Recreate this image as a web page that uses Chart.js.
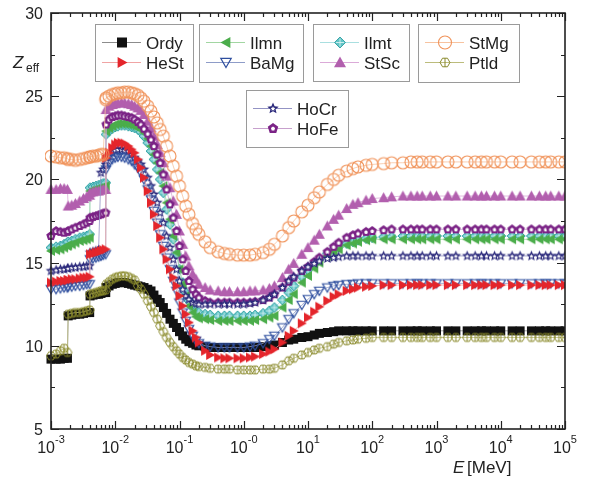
<!DOCTYPE html>
<html>
<head>
<meta charset="utf-8">
<script src="https://cdn.jsdelivr.net/npm/chart.js@4.4.1/dist/chart.umd.min.js"></script>
<style>
  html, body { margin: 0; padding: 0; background: #fff; }
  canvas { display: block; }
</style>
</head>
<body>
<canvas id="chart" width="589" height="484"></canvas>
<script>
// photon energy grid, MeV
const energies = [0.001, 0.0012, 0.0014, 0.0016, 0.0018,
  0.00185, 0.0021, 0.0024, 0.0028, 0.0032, 0.0036, 0.004,
  0.00405, 0.0045, 0.005, 0.0055, 0.006, 0.0065, 0.0071,
  0.0072, 0.008, 0.009, 0.01, 0.011, 0.0125, 0.014, 0.016, 0.018, 0.02,
  0.0225, 0.025, 0.028, 0.032, 0.036, 0.04, 0.045, 0.05, 0.056, 0.063, 0.071,
  0.08, 0.09, 0.1, 0.112, 0.125, 0.14, 0.16, 0.18, 0.2,
  0.25, 0.3, 0.4, 0.5, 0.6, 0.8, 1, 1.25, 1.5, 2,
  2.5, 3, 4, 5, 6, 8, 10, 12.5, 15, 20,
  25, 30, 40, 50, 60, 80, 100, 150, 200, 300,
  400, 500, 600, 800, 1000, 1500, 2000, 3000, 4000, 5000,
  6000, 8000, 10000, 15000, 20000, 30000, 40000, 50000, 60000, 80000, 100000];

// Zeff values for each sample
const ordy = [9.2, 9.2, 9.2, 9.25, 9.25,
  11.8, 11.85, 11.9, 11.9, 11.95, 12.0, 12.0,
  13.0, 13.05, 13.1, 13.1, 13.15, 13.2, 13.2,
  13.5, 13.6, 13.7, 13.75, 13.8, 13.8, 13.8, 13.75, 13.7, 13.65,
  13.6, 13.55, 13.5, 13.4, 13.3, 13.05, 12.8, 12.6, 12.3, 11.95, 11.6,
  11.35, 11.1, 10.85, 10.6, 10.4, 10.25, 10.15, 10.05, 10.0,
  9.95, 9.9, 9.9, 9.9, 9.9, 9.9, 9.9, 9.9, 9.9, 9.95,
  10.0, 10.05, 10.2, 10.35, 10.4, 10.5, 10.55, 10.65, 10.75, 10.8,
  10.85, 10.9, 10.9, 10.9, 10.9, 10.9, 10.9, 10.9, 10.9, 10.9,
  10.9, 10.9, 10.9, 10.9, 10.9, 10.9, 10.9, 10.9, 10.9, 10.9,
  10.9, 10.9, 10.9, 10.9, 10.9, 10.9, 10.9, 10.9, 10.9, 10.9, 10.9];

const ptld = [9.4, 9.5, 9.7, 9.85, 9.6,
  11.9, 11.95, 12.0, 12.0, 12.05, 12.1, 12.15,
  13.1, 13.15, 13.2, 13.25, 13.3, 13.3, 13.35,
  13.7, 13.85, 14.0, 14.1, 14.15, 14.2, 14.2, 14.15, 14.05, 13.95,
  13.6, 13.4, 13.1, 12.7, 12.35, 12.0, 11.6, 11.2, 10.85, 10.5, 10.2,
  9.95, 9.7, 9.5, 9.3, 9.15, 9.0, 8.9, 8.8, 8.75,
  8.7, 8.65, 8.6, 8.6, 8.6, 8.55, 8.55, 8.55, 8.55, 8.6,
  8.6, 8.65, 8.85, 9.1, 9.25, 9.45, 9.6, 9.75, 9.85, 9.95,
  10.1, 10.2, 10.3, 10.35, 10.4, 10.45, 10.5, 10.5, 10.5, 10.5,
  10.5, 10.5, 10.5, 10.5, 10.5, 10.5, 10.5, 10.5, 10.5, 10.5,
  10.5, 10.5, 10.5, 10.5, 10.5, 10.5, 10.5, 10.5, 10.5, 10.5, 10.5];

const heSt = [13.8, 13.85, 13.9, 13.9, 13.95,
  13.95, 14.0, 14.0, 14.05, 14.1, 14.1, 14.15,
  15.5, 15.55, 15.6, 15.65, 15.7, 15.75, 15.8,
  21.3, 21.6, 21.9, 22.1, 22.2, 22.2, 22.15, 22.0, 21.8, 21.6,
  21.2, 20.7, 20.1, 19.3, 18.6, 17.9, 17.2, 16.5, 15.8, 15.2, 14.6,
  14.1, 13.6, 13.0, 12.4, 11.9, 11.4, 10.9, 10.5, 10.2,
  9.7, 9.45, 9.3, 9.25, 9.25, 9.25, 9.25, 9.3, 9.35, 9.5,
  9.65, 9.8, 10.2, 10.6, 10.9, 11.35, 11.7, 12.05, 12.35, 12.7,
  12.95, 13.1, 13.3, 13.4, 13.5, 13.55, 13.6, 13.65, 13.65, 13.65,
  13.65, 13.65, 13.65, 13.65, 13.65, 13.65, 13.65, 13.65, 13.65, 13.65,
  13.65, 13.65, 13.65, 13.65, 13.65, 13.65, 13.65, 13.65, 13.65, 13.65, 13.65];

const baMg = [13.4, 13.4, 13.45, 13.5, 13.5,
  13.55, 13.55, 13.6, 13.6, 13.65, 13.7, 13.7,
  15.2, 15.25, 15.3, 15.35, 15.4, 15.45, 15.5,
  20.6, 21.0, 21.2, 21.3, 21.35, 21.35, 21.3, 21.2, 21.1, 20.9,
  20.7, 20.4, 20.0, 19.4, 18.8, 18.1, 17.4, 16.7, 16.0, 15.3, 14.6,
  13.9, 13.3, 12.6, 12.0, 11.5, 11.0, 10.6, 10.3, 10.15,
  10.0, 9.95, 9.9, 9.9, 9.9, 9.9, 9.9, 9.95, 10.0, 10.15,
  10.4, 10.6, 11.1, 11.6, 11.95, 12.45, 12.8, 13.1, 13.3, 13.5,
  13.6, 13.65, 13.7, 13.7, 13.75, 13.75, 13.75, 13.75, 13.75, 13.75,
  13.75, 13.75, 13.75, 13.75, 13.75, 13.75, 13.75, 13.75, 13.75, 13.75,
  13.75, 13.75, 13.75, 13.75, 13.75, 13.75, 13.75, 13.75, 13.75, 13.75, 13.75];

const hoCr = [14.5, 14.55, 14.6, 14.6, 14.65,
  14.65, 14.7, 14.7, 14.75, 14.75, 14.8, 14.8,
  15.6, 15.65, 15.7, 15.75, 20.4, 20.6, 20.9,
  21.1, 21.4, 21.6, 21.75, 21.8, 21.8, 21.75, 21.7, 21.5, 21.3,
  21.1, 20.9, 20.6, 20.1, 19.6, 19.1, 18.6, 18.0, 17.4, 16.6, 15.9,
  15.2, 14.6, 13.9, 13.4, 13.0, 12.8, 12.6, 12.55, 12.5,
  12.5, 12.5, 12.5, 12.5, 12.5, 12.5, 12.5, 12.55, 12.6, 12.75,
  12.9, 13.1, 13.5, 13.9, 14.15, 14.5, 14.75, 14.95, 15.1, 15.25,
  15.3, 15.35, 15.4, 15.4, 15.4, 15.4, 15.4, 15.4, 15.4, 15.4,
  15.4, 15.4, 15.4, 15.4, 15.4, 15.4, 15.4, 15.4, 15.4, 15.4,
  15.4, 15.4, 15.4, 15.4, 15.4, 15.4, 15.4, 15.4, 15.4, 15.4, 15.4];

const hoFe = [16.6, 16.9, 16.85, 16.8, 16.85,
  16.9, 17.0, 17.1, 17.2, 17.3, 17.4, 17.5,
  17.7, 17.75, 17.8, 17.85, 17.9, 17.95, 18.0,
  23.3, 23.6, 23.75, 23.8, 23.85, 23.85, 23.8, 23.75, 23.7, 23.6,
  23.45, 23.3, 23.05, 22.75, 22.4, 22.0, 21.5, 21.0, 20.3, 19.4, 18.5,
  17.7, 16.9, 16.0, 15.2, 14.5, 13.9, 13.4, 13.1, 12.9,
  12.7, 12.6, 12.6, 12.6, 12.6, 12.6, 12.6, 12.6, 12.65, 12.75,
  12.9, 13.1, 13.5, 13.85, 14.1, 14.5, 14.75, 15.05, 15.3, 15.65,
  15.95, 16.2, 16.5, 16.65, 16.75, 16.85, 16.9, 16.95, 17.0, 17.0,
  17.0, 17.0, 17.0, 17.0, 17.0, 17.0, 17.0, 17.0, 17.0, 17.0,
  17.0, 17.0, 17.0, 17.0, 17.0, 17.0, 17.0, 17.0, 17.0, 17.0, 17.0];

const ilmt = [15.9, 15.95, 16.0, 16.1, 16.2,
  16.25, 16.3, 16.4, 16.5, 16.55, 16.6, 16.7,
  19.5, 19.55, 19.6, 19.65, 19.7, 19.75, 19.8,
  22.7, 22.9, 23.05, 23.15, 23.2, 23.25, 23.25, 23.2, 23.15, 23.1,
  23.0, 22.85, 22.6, 22.2, 21.7, 21.2, 20.6, 20.0, 19.2, 18.2, 17.3,
  16.4, 15.5, 14.6, 13.8, 13.2, 12.7, 12.3, 12.1, 12.0,
  11.9, 11.85, 11.8, 11.8, 11.8, 11.8, 11.8, 11.8, 11.85, 11.95,
  12.1, 12.3, 12.75, 13.2, 13.6, 14.15, 14.55, 14.9, 15.2, 15.55,
  15.8, 15.95, 16.15, 16.25, 16.35, 16.45, 16.5, 16.55, 16.55, 16.6,
  16.6, 16.6, 16.6, 16.6, 16.6, 16.6, 16.6, 16.6, 16.6, 16.6,
  16.6, 16.6, 16.6, 16.6, 16.6, 16.6, 16.6, 16.6, 16.6, 16.6, 16.6];

const ilmn = [15.7, 15.75, 15.8, 15.9, 16.0,
  16.05, 16.1, 16.2, 16.3, 16.35, 16.4, 16.5,
  19.3, 19.35, 19.4, 19.45, 19.5, 19.55, 19.6,
  22.9, 23.1, 23.2, 23.3, 23.35, 23.35, 23.35, 23.3, 23.25, 23.2,
  23.1, 23.0, 22.8, 22.45, 22.0, 21.5, 21.0, 20.4, 19.6, 18.6, 17.6,
  16.6, 15.6, 14.6, 13.7, 13.0, 12.4, 12.0, 11.75, 11.65,
  11.6, 11.55, 11.5, 11.5, 11.5, 11.5, 11.5, 11.5, 11.55, 11.6,
  11.7, 11.8, 12.3, 12.75, 13.1, 13.8, 14.2, 14.65, 15.0, 15.4,
  15.65, 15.8, 16.05, 16.15, 16.25, 16.35, 16.4, 16.4, 16.4, 16.4,
  16.4, 16.4, 16.4, 16.4, 16.4, 16.4, 16.4, 16.4, 16.4, 16.4,
  16.4, 16.4, 16.4, 16.4, 16.4, 16.4, 16.4, 16.4, 16.4, 16.4, 16.4];

const stSc = [19.4, 19.4, 19.45, 19.45, 19.4,
  18.4, 18.45, 18.55, 18.7, 18.85, 18.95, 19.05,
  19.2, 19.25, 19.3, 19.3, 19.35, 19.4, 19.4,
  24.2, 24.4, 24.5, 24.55, 24.6, 24.6, 24.6, 24.55, 24.5, 24.4,
  24.3, 24.15, 23.9, 23.5, 23.1, 22.6, 22.1, 21.6, 21.0, 20.2, 19.5,
  18.7, 17.9, 16.9, 16.1, 15.4, 14.8, 14.3, 14.0, 13.7,
  13.5, 13.35, 13.3, 13.25, 13.25, 13.25, 13.25, 13.3, 13.3, 13.35,
  13.45, 13.6, 14.1, 14.6, 14.95, 15.5, 15.9, 16.35, 16.7, 17.2,
  17.6, 17.85, 18.25, 18.5, 18.6, 18.75, 18.85, 18.9, 18.95, 19.0,
  19.0, 19.0, 19.0, 19.0, 19.0, 19.0, 19.0, 19.0, 19.0, 19.0,
  19.0, 19.0, 19.0, 19.0, 19.0, 19.0, 19.0, 19.0, 19.0, 19.0, 19.0];

const stMg = [21.4, 21.35, 21.3, 21.3, 21.25,
  21.2, 21.2, 21.15, 21.2, 21.25, 21.3, 21.35,
  21.35, 21.4, 21.4, 21.45, 21.5, 21.5, 24.8,
  24.9, 25.0, 25.1, 25.15, 25.2, 25.2, 25.25, 25.25, 25.2, 25.15,
  25.05, 24.9, 24.7, 24.4, 24.1, 23.75, 23.4, 23.0, 22.6, 22.0, 21.4,
  20.8, 20.2, 19.6, 19.0, 18.4, 17.9, 17.35, 17.0, 16.7,
  16.25, 15.9, 15.65, 15.55, 15.5, 15.45, 15.45, 15.45, 15.5, 15.6,
  15.8, 16.1, 16.6, 17.1, 17.5, 18.05, 18.45, 18.9, 19.25, 19.7,
  20.0, 20.25, 20.5, 20.65, 20.75, 20.85, 20.9, 20.95, 21.0, 21.0,
  21.05, 21.05, 21.05, 21.05, 21.05, 21.05, 21.05, 21.05, 21.05, 21.05,
  21.05, 21.05, 21.05, 21.05, 21.05, 21.05, 21.05, 21.05, 21.05, 21.05, 21.05];

const xTicks = [1e-3, 1e-2, 1e-1, 1, 10, 100, 1e3, 1e4, 1e5];
const xExps = ['-3', '-2', '-1', '-0', '1', '2', '3', '4', '5'];
const yTicks = [5, 10, 15, 20, 25, 30];

const values = { Ordy: ordy, HeSt: heSt, Ilmn: ilmn, BaMg: baMg, Ilmt: ilmt,
  StSc: stSc, StMg: stMg, Ptld: ptld, HoCr: hoCr, HoFe: hoFe };

const looks = {
  Ordy: { color: '#111111', line: '#8c8c8c', kind: 'square', r: 4.5 },
  HeSt: { color: '#e4252b', line: '#f0a4a4', kind: 'triRight', r: 5 },
  Ilmn: { color: '#4bad4b', line: '#a2d6a2', kind: 'triLeft', r: 5 },
  BaMg: { color: '#2f4f9f', line: '#8e9cc8', kind: 'triDown', r: 5 },
  Ilmt: { color: '#62c4c6', line: '#a9dfe0', kind: 'diamond', r: 5 },
  StSc: { color: '#b25fae', line: '#dbaad8', kind: 'triUp', r: 5.5 },
  StMg: { color: '#f0935a', line: '#f7c3a0', kind: 'circle', r: 6 },
  Ptld: { color: '#8a8a2c', line: '#bcbc7c', kind: 'phi', r: 5 },
  HoCr: { color: '#29277a', line: '#9393c4', kind: 'star', r: 5.5 },
  HoFe: { color: '#7b2386', line: '#c7a0cd', kind: 'pentagon', r: 5 }
};

// top first
const drawOrder = ['Ptld', 'StMg', 'HeSt', 'BaMg', 'HoCr', 'HoFe', 'StSc', 'Ilmn', 'Ilmt', 'Ordy'];

const legendBoxes = [
  { x: 95, y: 24, w: 98, h: 57, items: ['Ordy', 'HeSt'] },
  { x: 199, y: 24, w: 104, h: 58, items: ['Ilmn', 'BaMg'] },
  { x: 313, y: 24, w: 96, h: 57, items: ['Ilmt', 'StSc'] },
  { x: 418, y: 24, w: 101, h: 58, items: ['StMg', 'Ptld'] },
  { x: 246, y: 90, w: 102, h: 57, items: ['HoCr', 'HoFe'] }
];

const FONT = '"Liberation Sans", Arial, Helvetica, sans-serif';

function polyPath(g, x, y, r, n, rot) {
  for (let k = 0; k < n; k++) {
    const a = rot + k * 2 * Math.PI / n;
    const px = x + r * Math.cos(a), py = y + r * Math.sin(a);
    k ? g.lineTo(px, py) : g.moveTo(px, py);
  }
  g.closePath();
}

function starPath(g, x, y, R, ri) {
  for (let k = 0; k < 10; k++) {
    const a = -Math.PI / 2 + k * Math.PI / 5;
    const rr = k % 2 ? ri : R;
    const px = x + rr * Math.cos(a), py = y + rr * Math.sin(a);
    k ? g.lineTo(px, py) : g.moveTo(px, py);
  }
  g.closePath();
}

function paintMarker(g, kind, x, y, r, color) {
  g.save();
  g.fillStyle = color; g.strokeStyle = color; g.lineWidth = 1;
  g.beginPath();
  if (kind === 'square') {
    g.rect(x - r, y - r, 2 * r, 2 * r); g.fill();
  } else if (kind === 'triRight') {
    g.moveTo(x + r, y); g.lineTo(x - r * 0.8, y - r); g.lineTo(x - r * 0.8, y + r); g.closePath(); g.fill();
  } else if (kind === 'triLeft') {
    g.moveTo(x - r, y); g.lineTo(x + r * 0.8, y - r); g.lineTo(x + r * 0.8, y + r); g.closePath(); g.fill();
  } else if (kind === 'triUp') {
    g.moveTo(x, y - r); g.lineTo(x + r, y + r * 0.8); g.lineTo(x - r, y + r * 0.8); g.closePath(); g.fill();
  } else if (kind === 'triDown') {
    g.moveTo(x, y + r * 0.9); g.lineTo(x + r * 0.95, y - r * 0.75); g.lineTo(x - r * 0.95, y - r * 0.75); g.closePath();
    g.lineWidth = 1.2; g.stroke();
  } else if (kind === 'diamond') {
    g.moveTo(x, y - r); g.lineTo(x + r, y); g.lineTo(x, y + r); g.lineTo(x - r, y); g.closePath();
    g.fill(); g.strokeStyle = '#3aa6a8'; g.stroke();
    g.beginPath(); g.strokeStyle = '#e6f7f7'; g.lineWidth = 0.8;
    g.moveTo(x - r + 1.5, y); g.lineTo(x + r - 1.5, y); g.moveTo(x, y - r + 1.5); g.lineTo(x, y + r - 1.5); g.stroke();
  } else if (kind === 'circle') {
    g.arc(x, y, r, 0, 2 * Math.PI); g.lineWidth = 1.1; g.stroke();
  } else if (kind === 'phi') {
    polyPath(g, x, y, r * 0.9, 6, 0); g.lineWidth = 1; g.stroke();
    g.beginPath(); g.moveTo(x, y - r * 0.8); g.lineTo(x, y + r * 0.8); g.stroke();
  } else if (kind === 'star') {
    starPath(g, x, y, r, r * 0.45); g.fill();
    g.beginPath(); g.fillStyle = '#ffffff'; starPath(g, x, y + 0.3, r * 0.42, r * 0.2); g.fill();
  } else if (kind === 'pentagon') {
    polyPath(g, x, y, r, 5, -Math.PI / 2); g.fill();
    g.beginPath(); g.fillStyle = '#ffffff'; polyPath(g, x, y + 0.3, r * 0.4, 5, -Math.PI / 2); g.fill();
  }
  g.restore();
}

function markerImage(name) {
  const s = looks[name];
  const c = document.createElement('canvas');
  c.width = c.height = Math.ceil(2 * s.r + 4);
  paintMarker(c.getContext('2d'), s.kind, c.width / 2, c.height / 2, s.r, s.color);
  return c;
}

const frameAndLegend = {
  id: 'frameAndLegend',
  afterDraw(chart) {
    const { ctx, chartArea: a } = chart;
    const x = chart.scales.x, y = chart.scales.y;
    ctx.save();
    ctx.strokeStyle = '#222'; ctx.lineWidth = 1.2;
    ctx.beginPath();
    xTicks.forEach(v => {
      const px = Math.round(x.getPixelForValue(v)) + 0.5;
      ctx.moveTo(px, a.bottom); ctx.lineTo(px, a.bottom - 8);
      ctx.moveTo(px, a.top); ctx.lineTo(px, a.top + 8);
    });
    for (let d = -3; d < 5; d++) {
      for (let m = 2; m < 10; m++) {
        const px = Math.round(x.getPixelForValue(m * Math.pow(10, d))) + 0.5;
        ctx.moveTo(px, a.bottom); ctx.lineTo(px, a.bottom - 4);
        ctx.moveTo(px, a.top); ctx.lineTo(px, a.top + 4);
      }
    }
    yTicks.forEach(v => {
      const py = Math.round(y.getPixelForValue(v)) + 0.5;
      ctx.moveTo(a.left, py); ctx.lineTo(a.left + 8, py);
      ctx.moveTo(a.right, py); ctx.lineTo(a.right - 8, py);
      if (v < 30) {
        const pm = Math.round(y.getPixelForValue(v + 2.5)) + 0.5;
        ctx.moveTo(a.left, pm); ctx.lineTo(a.left + 4, pm);
        ctx.moveTo(a.right, pm); ctx.lineTo(a.right - 4, pm);
      }
    });
    ctx.stroke();
    ctx.lineWidth = 1.6;
    ctx.strokeRect(a.left, a.top, a.right - a.left, a.bottom - a.top);

    // tick labels
    ctx.fillStyle = '#222';
    ctx.textBaseline = 'alphabetic';
    ctx.textAlign = 'right';
    ctx.font = '16px ' + FONT;
    yTicks.forEach(v => ctx.fillText(String(v), 43, y.getPixelForValue(v) + 6));
    ctx.textAlign = 'left';
    xTicks.forEach((v, i) => {
      const px = x.getPixelForValue(v);
      ctx.font = '16px ' + FONT;
      const wb = ctx.measureText('10').width;
      ctx.font = '11px ' + FONT;
      const we = ctx.measureText(xExps[i]).width;
      const x0 = px - (wb + we) / 2;
      ctx.font = '16px ' + FONT;
      ctx.fillText('10', x0, 453);
      ctx.font = '11px ' + FONT;
      ctx.fillText(xExps[i], x0 + wb, 443);
    });

    // axis titles
    ctx.font = 'italic 17px ' + FONT;
    ctx.fillText('Z', 13, 68);
    ctx.font = '12px ' + FONT;
    ctx.fillText('eff', 26, 72);
    ctx.font = 'italic 17px ' + FONT;
    ctx.fillText('E', 453, 473);
    ctx.font = '17px ' + FONT;
    ctx.fillText('[MeV]', 467, 473);

    // legend boxes
    legendBoxes.forEach(b => {
      ctx.fillStyle = '#fff';
      ctx.fillRect(b.x, b.y, b.w, b.h);
      ctx.strokeStyle = '#9a9a9a'; ctx.lineWidth = 1;
      ctx.strokeRect(b.x + 0.5, b.y + 0.5, b.w, b.h);
      b.items.forEach((name, k) => {
        const s = looks[name];
        const ry = b.y + 18.5 + k * 20;
        ctx.strokeStyle = s.line; ctx.lineWidth = 1;
        ctx.beginPath(); ctx.moveTo(b.x + 7, ry); ctx.lineTo(b.x + 46, ry); ctx.stroke();
        paintMarker(ctx, s.kind, b.x + 27, ry, s.r + 0.5, s.color);
        ctx.fillStyle = '#222';
        ctx.font = '17px ' + FONT;
        ctx.fillText(name, b.x + 51, ry + 6);
      });
    });
    ctx.restore();
  }
};

new Chart(document.getElementById('chart'), {
  type: 'scatter',
  data: {
    datasets: drawOrder.map(name => ({
      label: name,
      data: energies.map((e, i) => ({ x: e, y: values[name][i] })),
      showLine: true,
      borderColor: looks[name].line,
      borderWidth: 0.8,
      pointStyle: markerImage(name),
      pointRadius: 5,
      clip: { left: 6, top: 0, right: 0, bottom: 0 }
    }))
  },
  options: {
    responsive: false,
    animation: false,
    devicePixelRatio: 1,
    layout: { padding: { left: 0, top: 13, right: 24, bottom: 0 } },
    plugins: { legend: { display: false }, tooltip: { enabled: false } },
    scales: {
      x: {
        type: 'logarithmic', min: 1e-3, max: 1e5,
        afterBuildTicks: s => { s.ticks = xTicks.map(v => ({ value: v })); },
        afterFit: s => { s.height = 55; },
        ticks: { display: false }, grid: { display: false }, border: { display: false }
      },
      y: {
        min: 5, max: 30,
        afterBuildTicks: s => { s.ticks = yTicks.map(v => ({ value: v })); },
        afterFit: s => { s.width = 51; },
        ticks: { display: false }, grid: { display: false }, border: { display: false }
      }
    }
  },
  plugins: [frameAndLegend]
});
</script>
</body>
</html>
